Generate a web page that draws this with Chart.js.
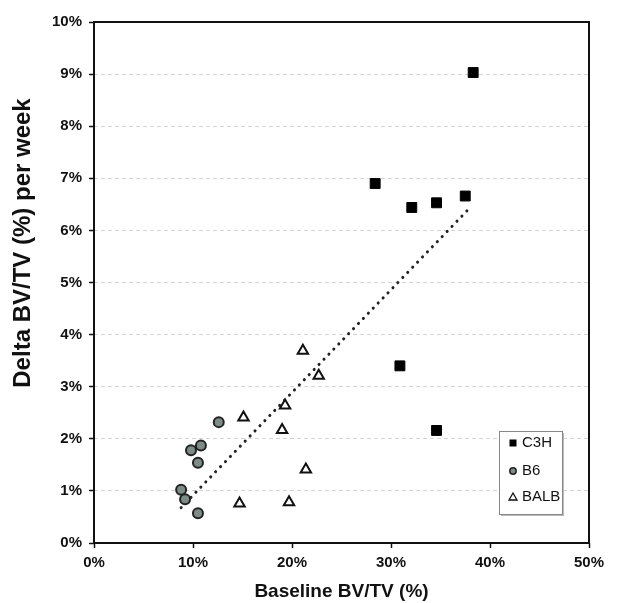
<!DOCTYPE html>
<html>
<head>
<meta charset="utf-8">
<script src="https://cdn.jsdelivr.net/npm/chart.js@4/dist/chart.umd.min.js"></script>
<style>
  html, body { margin: 0; padding: 0; background: #fff; }
  #wrap { width: 633px; height: 603px; }
</style>
</head>
<body>
<div id="wrap"><canvas id="bvChart" width="633" height="603"></canvas></div>
<script>
// baseline BV/TV (%) vs delta BV/TV (%) per week
const c3hX  = [38.3, 28.4, 37.5, 32.1, 34.6, 30.9, 34.6];
const c3hY  = [9.03, 6.90, 6.66, 6.44, 6.53, 3.40, 2.16];
const b6X   = [12.6, 9.8, 10.8, 10.5, 8.8, 9.2, 10.5];
const b6Y   = [2.32, 1.78, 1.87, 1.54, 1.02, 0.84, 0.57];
const balbX = [21.1, 22.7, 19.3, 15.1, 19.0, 21.4, 14.7, 19.7];
const balbY = [3.69, 3.21, 2.64, 2.41, 2.17, 1.41, 0.76, 0.78];
const trendX = [8.8, 38.0];
const trendY = [0.68, 6.44];

const xTicks = [0, 10, 20, 30, 40, 50];
const yTicks = [0, 1, 2, 3, 4, 5, 6, 7, 8, 9, 10];
const legendNames = ['C3H', 'B6', 'BALB'];

const pts = (xs, ys) => xs.map((x, i) => ({ x, y: ys[i] }));
const FONT = '"Liberation Sans", Arial, sans-serif';

// frame + axis titles + boxed legend
const decor = {
  id: 'decor',
  afterDatasetsDraw(chart) {
    const { ctx, chartArea: a } = chart;
    ctx.save();
    ctx.strokeStyle = '#111';
    ctx.lineWidth = 2;
    ctx.strokeRect(a.left, a.top, a.right - a.left, a.bottom - a.top);

    // legend box
    const bx = 499, by = 431, bw = 63, bh = 83;
    ctx.fillStyle = '#bbb';
    ctx.fillRect(bx + 2, by + 2, bw, bh);
    ctx.fillStyle = '#fff';
    ctx.fillRect(bx, by, bw, bh);
    ctx.strokeStyle = '#888';
    ctx.lineWidth = 1;
    ctx.strokeRect(bx + 0.5, by + 0.5, bw, bh);

    const rows = [443, 471, 497];
    const mx = 513;
    ctx.fillStyle = '#000';
    ctx.fillRect(mx - 3.5, rows[0] - 3.5, 7, 7);
    ctx.beginPath();
    ctx.arc(mx, rows[1], 3.2, 0, Math.PI * 2);
    ctx.fillStyle = '#7d8c86';
    ctx.fill();
    ctx.strokeStyle = '#222';
    ctx.lineWidth = 1.5;
    ctx.stroke();
    ctx.beginPath();
    ctx.moveTo(mx, rows[2] - 4);
    ctx.lineTo(mx + 4, rows[2] + 3);
    ctx.lineTo(mx - 4, rows[2] + 3);
    ctx.closePath();
    ctx.fillStyle = '#fff';
    ctx.fill();
    ctx.strokeStyle = '#111';
    ctx.lineWidth = 1.3;
    ctx.stroke();

    ctx.fillStyle = '#111';
    ctx.font = '15px ' + FONT;
    ctx.textAlign = 'left';
    ctx.textBaseline = 'middle';
    legendNames.forEach((n, i) => ctx.fillText(n, 522, rows[i]));

    // axis titles
    ctx.font = 'bold 19px ' + FONT;
    ctx.textAlign = 'center';
    ctx.fillText('Baseline BV/TV (%)', (a.left + a.right) / 2, 592);
    ctx.translate(23, 243);
    ctx.rotate(-Math.PI / 2);
    ctx.font = 'bold 24px ' + FONT;
    ctx.fillText('Delta BV/TV (%) per week', 0, 0);
    ctx.restore();
  }
};

new Chart(document.getElementById('bvChart'), {
  type: 'scatter',
  data: {
    datasets: [
      { label: legendNames[0], data: pts(c3hX, c3hY), pointStyle: 'rect', pointRadius: 7,
        backgroundColor: '#000', borderColor: '#000', borderWidth: 1, order: 1 },
      { label: legendNames[1], data: pts(b6X, b6Y), pointStyle: 'circle', pointRadius: 5,
        backgroundColor: '#7d8c86', borderColor: '#222', borderWidth: 2, order: 1 },
      { label: legendNames[2], data: pts(balbX, balbY), pointStyle: 'triangle', pointRadius: 6,
        backgroundColor: '#fff', borderColor: '#111', borderWidth: 2, order: 1 },
      { type: 'line', label: 'trend', data: pts(trendX, trendY), showLine: true, pointRadius: 0,
        borderColor: '#222', borderWidth: 3, borderDash: [0.1, 7], borderCapStyle: 'round', order: 10 },
    ],
  },
  options: {
    responsive: false,
    animation: false,
    layout: { padding: { left: 0, right: 44, top: 22, bottom: 0 } },
    plugins: { legend: { display: false }, tooltip: { enabled: false } },
    scales: {
      x: {
        type: 'linear', min: 0, max: 50,
        afterBuildTicks: s => { s.ticks = xTicks.map(v => ({ value: v })); },
        afterFit: s => { s.height = 60; },
        ticks: { callback: v => v + '%', color: '#111', padding: 6, maxRotation: 0,
          font: { family: FONT, size: 15, weight: 'bold' } },
        grid: { drawOnChartArea: false, tickLength: 5, tickColor: '#111', tickWidth: 1.5 },
        border: { display: false },
      },
      y: {
        type: 'linear', min: 0, max: 10,
        afterBuildTicks: s => { s.ticks = yTicks.map(v => ({ value: v })); },
        afterFit: s => { s.width = 94; },
        ticks: { callback: v => v + '%', color: '#111', padding: 7,
          font: { family: FONT, size: 15, weight: 'bold' } },
        grid: {
          color: c => (c.tick && (c.tick.value === 0 || c.tick.value === 10)) ? 'rgba(0,0,0,0)' : '#d4d4d4',
          lineWidth: 1, tickLength: 5, tickColor: '#111', tickWidth: 1.5, tickBorderDash: [],
        },
        border: { display: false, dash: [4, 3] },
      },
    },
  },
  plugins: [decor],
});
</script>
</body>
</html>
